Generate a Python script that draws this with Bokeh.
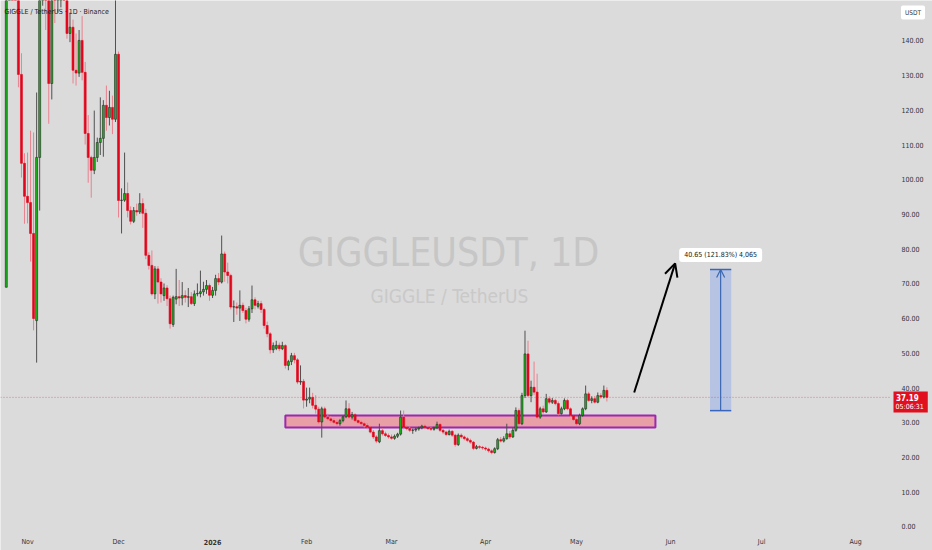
import numpy as np
import pandas as pd
from bokeh.plotting import figure
from bokeh.models import (ColumnDataSource, FixedTicker, PrintfTickFormatter, Label,
                          BoxAnnotation, Arrow, OpenHead, Range1d)
from bokeh.embed import file_html
from bokeh.resources import INLINE
from bokeh.core.properties import value

# ---------------- data ----------------
start_date = "2025-10-25"   # first daily candle

opens = [68.9, 182, 236, 212, 168, 130.2, 104.6, 95.1, 93.3, 84.4,
         59.3, 106.3, 162, 171, 156, 127.6, 160, 153, 160, 168,
         162, 142.0, 143.8, 131.4, 130.6, 140.0, 130.8, 113.2, 106.3, 102.6,
         106.3, 110.6, 111.8, 121.3, 117.8, 120.7, 117.3, 136.0, 93.9, 94.0,
         95.9, 91.0, 87.9, 91.0, 90.6, 93.0, 90.2, 78.1, 75.2, 67.0,
         74.2, 70.4, 66.5, 68.7, 65.6, 58.2, 65.5, 66.2, 65.8, 66.5,
         66.0, 66.2, 64.2, 67.0, 67.1, 67.6, 68.3, 69.4, 66.6, 68.0,
         71.4, 70.4, 78.5, 73.3, 72.3, 63.2, 63.3, 62.9, 63.7, 62.2,
         59.7, 62.7, 65.3, 63.4, 64.2, 62.5, 57.9, 55.5, 50.9, 51.3,
         52.2, 51.2, 52.1, 46.4, 47.5, 49.2, 48.0, 41.6, 41.8, 36.4,
         36.7, 37.2, 34.9, 33.8, 30.1, 33.9, 31.5, 31.0, 30.5, 30.0,
         29.6, 30.5, 31.6, 33.9, 31.5, 32.2, 30.5, 30.0, 29.6, 29.1,
         28.6, 27.2, 25.8, 24.4, 27.6, 26.7, 26.2, 25.8, 25.4, 26.0,
         26.6, 31.5, 28.6, 28.2, 27.7, 27.8, 28.1, 28.4, 28.9, 28.5,
         28.2, 28.0, 28.4, 29.4, 27.7, 27.2, 26.5, 27.4, 26.3, 23.6,
         26.3, 25.8, 25.3, 24.8, 24.3, 22.5, 23.0, 22.8, 22.6, 22.3,
         21.8, 21.3, 22.4, 25.0, 24.6, 25.3, 26.7, 25.8, 27.7, 33.4,
         29.6, 37.7, 49.7, 37.7, 40.1, 38.7, 31.5, 33.9, 33.0, 36.8,
         35.8, 36.3, 35.4, 32.5, 33.9, 36.3, 33.9, 32.0, 30.8, 29.6,
         32.0, 33.9, 38.2, 36.3, 36.8, 35.8, 37.7, 37.3, 39.2]

highs = [190, 262, 270, 226, 175, 136.3, 107.5, 107.7, 114.0, 113.5,
         125.0, 172, 185, 178, 160, 168, 172, 166, 176, 179,
         165, 148, 146, 142, 143, 147, 133.8, 118.5, 106.8, 119.8,
         112.0, 123.6, 122.8, 127.0, 125.5, 124.1, 158, 136.8, 97.4, 107.7,
         99.1, 92.2, 92.0, 93.0, 96.0, 94.5, 91.5, 79.0, 79.5, 75.0,
         75.0, 71.5, 70.0, 69.5, 66.5, 66.5, 74.2, 71.0, 70.4, 68.0,
         68.7, 67.5, 68.0, 70.0, 73.7, 70.5, 71.0, 70.0, 69.0, 72.5,
         73.0, 83.8, 79.2, 76.0, 72.8, 65.1, 64.5, 68.0, 64.5, 63.0,
         63.5, 69.4, 66.0, 65.0, 65.0, 63.0, 59.0, 56.0, 53.0, 53.5,
         53.0, 53.2, 52.5, 48.0, 50.0, 50.0, 48.5, 46.4, 42.5, 40.0,
         40.0, 38.5, 37.8, 34.5, 34.5, 34.5, 32.5, 31.8, 31.2, 30.8,
         31.0, 32.0, 36.3, 35.5, 33.0, 32.6, 31.0, 30.5, 30.2, 29.8,
         29.0, 27.8, 26.3, 29.6, 28.3, 27.3, 26.8, 26.5, 26.5, 27.0,
         33.4, 33.4, 29.2, 28.8, 28.2, 28.5, 28.8, 29.3, 29.4, 29.0,
         28.7, 28.8, 30.2, 29.8, 28.2, 27.6, 27.9, 27.8, 26.7, 26.8,
         26.8, 26.2, 25.8, 25.3, 24.6, 23.5, 23.4, 23.2, 23.0, 22.7,
         22.2, 22.8, 25.5, 25.8, 26.0, 29.6, 27.5, 28.5, 34.3, 34.0,
         38.5, 56.4, 53.5, 42.0, 47.5, 44.0, 34.5, 34.8, 38.2, 37.5,
         37.0, 36.8, 36.0, 34.5, 36.9, 36.8, 34.3, 32.4, 31.2, 32.5,
         34.3, 40.6, 38.8, 37.5, 37.6, 38.6, 38.4, 40.6, 40.1]

lows = [68.9, 170, 205, 158, 126.5, 100.5, 87.2, 87.3, 76.3, 56.5,
        47.2, 91.0, 150, 143, 116, 123, 145, 148, 149.5, 156,
        140.5, 139.5, 127.6, 127.0, 129.5, 128.5, 110.0, 99.0, 94.7, 101.5,
        105.0, 107.0, 106.5, 114.0, 115.5, 113.0, 116.5, 89.0, 84.4, 93.5,
        89.0, 87.0, 87.4, 89.5, 90.0, 86.0, 77.0, 74.0, 66.5, 65.5,
        64.2, 64.5, 65.0, 63.5, 57.0, 57.5, 64.0, 63.5, 63.7, 64.5,
        63.2, 63.8, 63.5, 66.3, 66.0, 66.5, 67.0, 65.0, 65.8, 66.5,
        69.5, 70.0, 70.5, 70.0, 62.5, 58.9, 61.0, 59.2, 61.5, 58.5,
        59.0, 61.5, 62.5, 62.8, 61.5, 57.0, 54.5, 49.8, 50.0, 50.8,
        50.5, 50.8, 45.5, 45.0, 46.5, 47.0, 41.0, 40.8, 34.0, 34.5,
        35.5, 34.0, 32.5, 29.5, 25.6, 31.0, 30.5, 29.8, 29.5, 29.0,
        29.0, 30.0, 31.2, 31.0, 30.8, 30.0, 29.5, 29.0, 28.5, 28.0,
        26.8, 25.2, 24.0, 24.0, 26.2, 25.8, 25.3, 25.0, 25.0, 25.5,
        26.2, 28.0, 27.7, 27.2, 26.7, 27.3, 27.6, 28.0, 28.0, 27.8,
        27.5, 27.6, 28.0, 27.2, 26.6, 26.0, 26.2, 25.8, 23.0, 23.2,
        25.3, 24.8, 24.3, 23.8, 22.0, 22.2, 22.3, 22.1, 21.8, 21.3,
        20.8, 21.0, 22.0, 24.2, 24.2, 25.0, 25.2, 25.5, 27.3, 29.0,
        29.2, 37.0, 37.2, 35.8, 37.8, 31.0, 31.0, 32.5, 32.7, 35.2,
        35.3, 34.9, 32.0, 32.2, 33.5, 33.5, 31.6, 30.4, 29.1, 29.2,
        31.6, 33.5, 35.9, 35.5, 35.4, 35.5, 36.8, 36.9, 36.0]

closes = [182, 236, 212, 168, 130.2, 104.6, 95.1, 93.3, 84.4, 59.9,
          106.3, 162, 171, 156, 127.6, 160, 153, 160, 168, 162,
          142.0, 143.8, 131.4, 130.6, 140.0, 130.8, 113.2, 106.3, 102.6, 106.3,
          110.6, 111.8, 121.3, 117.8, 120.7, 117.3, 136.0, 93.9, 94.0, 95.9,
          91.0, 87.9, 91.0, 90.6, 93.0, 90.2, 78.1, 75.2, 67.0, 74.2,
          70.4, 67.0, 68.7, 65.6, 58.4, 66.0, 66.2, 65.8, 66.5, 66.0,
          66.2, 64.2, 67.0, 67.1, 67.6, 68.3, 69.4, 66.6, 68.0, 71.4,
          70.4, 78.5, 73.3, 72.3, 63.2, 63.3, 62.9, 63.7, 62.2, 59.7,
          62.7, 65.3, 63.7, 64.2, 62.5, 57.9, 55.5, 50.9, 52.1, 52.2,
          51.2, 52.1, 46.4, 47.5, 49.2, 48.0, 41.6, 41.8, 36.4, 36.7,
          37.2, 34.9, 33.8, 30.1, 33.9, 31.5, 31.0, 30.5, 30.0, 29.6,
          30.5, 31.6, 33.9, 31.5, 32.2, 30.5, 30.0, 29.6, 29.1, 28.6,
          27.2, 25.8, 24.6, 27.6, 26.7, 26.2, 25.8, 25.4, 26.0, 26.6,
          31.5, 28.6, 28.2, 27.7, 27.8, 28.1, 28.4, 28.9, 28.5, 28.2,
          28.0, 28.4, 29.4, 27.7, 27.2, 26.5, 27.4, 26.3, 23.6, 26.3,
          25.8, 25.3, 24.8, 24.3, 22.5, 23.0, 22.8, 22.6, 22.3, 21.8,
          21.3, 22.4, 25.0, 24.6, 25.3, 26.7, 25.8, 27.7, 33.4, 29.6,
          37.7, 49.7, 37.7, 40.1, 38.7, 31.5, 33.9, 33.0, 36.8, 35.8,
          36.3, 35.4, 32.5, 33.9, 36.3, 33.9, 32.0, 30.8, 29.6, 32.0,
          33.9, 38.2, 36.3, 36.8, 35.8, 37.7, 37.3, 39.2, 37.19]

month_starts = ["2025-11-01", "2025-12-01", "2026-01-01", "2026-02-01", "2026-03-01",
                "2026-04-01", "2026-05-01", "2026-06-01", "2026-07-01", "2026-08-01"]
month_labels = ["Nov", "Dec", "2026", "Feb", "Mar", "Apr", "May", "Jun", "Jul", "Aug"]
y_ticks = [0, 10, 20, 30, 40, 50, 60, 70, 80, 90, 100, 110, 120, 130, 140]

last_price = 37.19
countdown = "05:06:31"

zone_start, zone_end = "2026-01-25", "2026-05-27"
zone_low, zone_high = 28.5, 32.0

arrow_start = ("2026-05-20", 38.6)
arrow_end = ("2026-06-02 12:00", 75.8)

measure_start, measure_end = "2026-06-14", "2026-06-21"
measure_low, measure_high = 33.37, 74.02
measure_text = "40.65 (121.83%) 4,065"

title_text = "GIGGLE / TetherUS · 1D · Binance"
wm_main, wm_sub = "GIGGLEUSDT, 1D", "GIGGLE / TetherUS"

# ---------------- helpers ----------------
base = pd.Timestamp(start_date)
def day(d):
    return (pd.Timestamp(d) - base) / pd.Timedelta(days=1)

W, H = 932, 550
PANE_W, PANE_H = 890, 532          # price pane (left of price scale, above time scale)
X0, XP = -1.91, 291.5              # data x at left edge / at pane right edge
YP, Y1 = -1.73, 151.5              # data y at pane bottom / at top edge
def rx(px):  # pixel x -> data x
    return X0 + px * (XP - X0) / PANE_W
def ry(py):  # pixel y -> data y
    return Y1 - py * (Y1 - YP) / PANE_H

BG = "#dbdbdb"
FONT = "DejaVu Sans Condensed, DejaVu Sans, sans-serif"
GREEN, RED = "#18b418", "#e2061c"
WICK_G, WICK_R = "#505050", "#e8828e"

o = np.array(opens, float); h = np.array(highs, float)
l = np.array(lows, float); c = np.array(closes, float)
xs = np.arange(len(c), dtype=float)
up = c >= o

src_up = ColumnDataSource(dict(x=xs[up], top=np.maximum(o, c)[up], bottom=np.minimum(o, c)[up],
                               high=h[up], low=l[up]))
src_dn = ColumnDataSource(dict(x=xs[~up], top=np.maximum(o, c)[~up], bottom=np.minimum(o, c)[~up],
                               high=h[~up], low=l[~up]))

p = figure(width=W, height=H, x_range=Range1d(X0, rx(W)), y_range=Range1d(ry(H), Y1),
           output_backend="svg", toolbar_location=None, y_axis_location="right",
           min_border_left=0, min_border_top=0, min_border_right=0, min_border_bottom=0,
           background_fill_color=BG, border_fill_color=BG, outline_line_color=None)
p.grid.visible = False

# watermark
p.text(x=[rx(448)], y=[ry(252)], text=[wm_main], text_align="center", text_baseline="middle",
       text_font=value(FONT), text_font_size=value("39px"), text_color="#c6c6c6")
p.text(x=[rx(449)], y=[ry(295)], text=[wm_sub], text_align="center", text_baseline="middle",
       text_font=value(FONT), text_font_size=value("19px"), text_color="#c9c9c9")

# support zone (under the candles)
p.add_layout(BoxAnnotation(left=day(zone_start), right=day(zone_end), bottom=zone_low, top=zone_high,
                           fill_color="#e89fa6", fill_alpha=1.0, line_color="#9c27b0",
                           line_width=2, line_alpha=1.0, level="underlay"))

# last-price line (across the price pane)
p.segment(x0=[X0], y0=[last_price], x1=[XP], y1=[last_price], line_color="#f23645",
          line_alpha=0.6, line_dash="1 2", line_width=1)

# candles
p.segment(x0="x", y0="low", x1="x", y1="high", source=src_up, line_color=WICK_G, line_width=1)
p.segment(x0="x", y0="low", x1="x", y1="high", source=src_dn, line_color=WICK_R, line_width=1)
p.vbar(x="x", width=0.66, top="top", bottom="bottom", source=src_up, fill_color=GREEN,
       line_color="#2a2a2a", line_width=0.6)
p.vbar(x="x", width=0.66, top="top", bottom="bottom", source=src_dn, fill_color=RED,
       line_color=RED, line_width=0.6)

# arrow
p.add_layout(Arrow(end=OpenHead(size=13, line_width=2, line_color="black"),
                   x_start=day(arrow_start[0]), y_start=arrow_start[1],
                   x_end=day(arrow_end[0]), y_end=arrow_end[1],
                   line_color="black", line_width=2))

# measure
m0, m1 = day(measure_start), day(measure_end)
p.add_layout(BoxAnnotation(left=m0, right=m1, bottom=measure_low, top=measure_high,
                           fill_color="#2962ff", fill_alpha=0.2, line_color=None))
MBLUE = "#3b67b3"
p.segment(x0=[m0, m0], y0=[measure_low, measure_high], x1=[m1, m1], y1=[measure_low, measure_high],
          line_color=MBLUE, line_width=1.5)
p.add_layout(Arrow(end=OpenHead(size=8, line_width=1.2, line_color=MBLUE),
                   x_start=(m0 + m1) / 2, y_start=measure_low, x_end=(m0 + m1) / 2, y_end=measure_high,
                   line_color=MBLUE, line_width=1.2))
p.add_layout(Label(x=(m0 + m1) / 2, y=ry(254.5), text=measure_text, text_align="center",
                   text_baseline="middle", text_font=FONT, text_font_size="7px", text_color="#131722",
                   background_fill_color="white", border_radius=3,
                   padding=dict(top=3, right=5, bottom=3, left=5)))

# title
p.add_layout(Label(x=rx(4), y=ry(11), text=title_text, text_align="left", text_baseline="middle",
                   text_font=FONT, text_font_size="7px", text_color="#222222"))

# axes: price scale fixed at the pane's right edge, time scale at the pane's bottom edge
yax = p.yaxis[0]
yax.fixed_location = XP
yax.ticker = FixedTicker(ticks=y_ticks)
yax.formatter = PrintfTickFormatter(format="%.2f")
xax = p.xaxis[0]
xax.fixed_location = YP
tick_pos = [int(round(day(d))) for d in month_starts]
xax.ticker = FixedTicker(ticks=tick_pos)
xax.major_label_overrides = {t: ("" if lab == "2026" else lab) for t, lab in zip(tick_pos, month_labels)}
for ax in (yax, xax):
    ax.axis_line_color = None
    ax.major_tick_line_color = None
    ax.minor_tick_line_color = None
    ax.major_tick_out = 0
    ax.major_tick_in = 0
    ax.major_label_text_font = FONT
    ax.major_label_text_font_size = "7px"
    ax.major_label_text_color = "#333333"
yax.major_label_standoff = 11
xax.major_label_standoff = 5

# bold year label on the time scale
p.add_layout(Label(x=day("2026-01-01"), y=ry(541), text="2026", text_align="center",
                   text_baseline="middle", text_font=FONT, text_font_size="7px",
                   text_font_style="bold", text_color="#333333"))

# price-scale decorations
p.add_layout(Label(x=rx(912.5), y=ry(12), text="USDT", text_align="center", text_baseline="middle",
                   text_font=FONT, text_font_size="6.5px", text_color="#333333",
                   background_fill_color="white", border_radius=2,
                   padding=dict(top=3, right=4, bottom=3, left=4)))
p.add_layout(Label(x=rx(893), y=ry(401.5), text=countdown, text_align="left", text_baseline="middle",
                   text_font=FONT, text_font_size="7px", text_color="white",
                   background_fill_color="#e0101f", padding=dict(top=11, right=4, bottom=2, left=2)))
p.add_layout(Label(x=rx(895.5), y=ry(396.5), text=f"{last_price:.2f}", text_align="left",
                   text_baseline="middle", text_font=FONT, text_font_size="8px",
                   text_font_style="bold", text_color="white"))

open("out.html", "w").write(file_html(p, INLINE))
